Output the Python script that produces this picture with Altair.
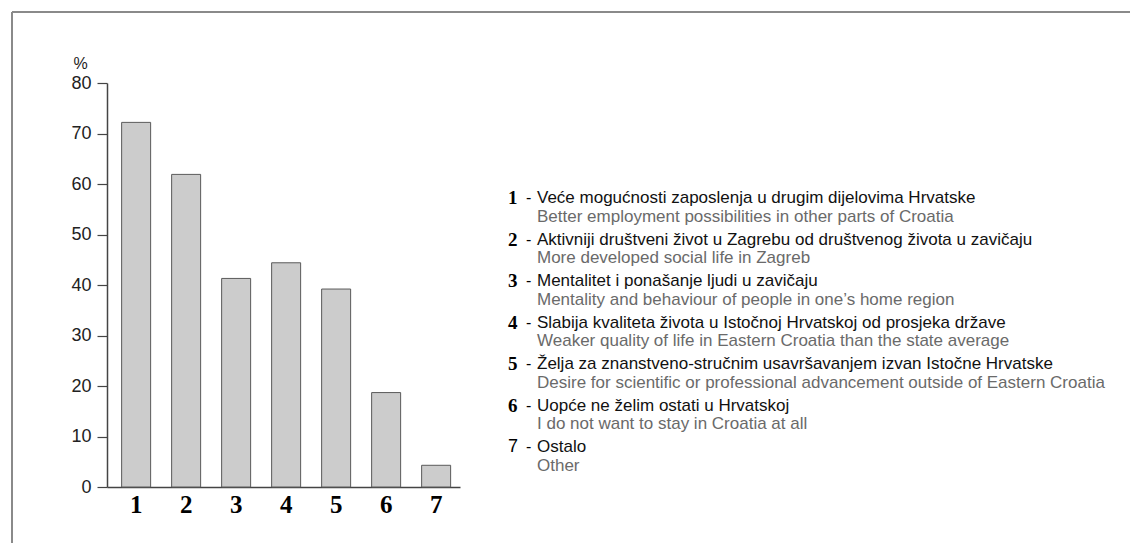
import altair as alt
import pandas as pd

categories = ["1", "2", "3", "4", "5", "6", "7"]
values = [72.2, 61.9, 41.3, 44.4, 39.2, 18.7, 4.3]

labels_hr = [
    "Veće mogućnosti zaposlenja u drugim dijelovima Hrvatske",
    "Aktivniji društveni život u Zagrebu od društvenog života u zavičaju",
    "Mentalitet i ponašanje ljudi u zavičaju",
    "Slabija kvaliteta života u Istočnoj Hrvatskoj od prosjeka države",
    "Želja za znanstveno-stručnim usavršavanjem izvan Istočne Hrvatske",
    "Uopće ne želim ostati u Hrvatskoj",
    "Ostalo",
]
labels_en = [
    "Better employment possibilities in other parts of Croatia",
    "More developed social life in Zagreb",
    "Mentality and behaviour of people in one\u2019s home region",
    "Weaker quality of life in Eastern Croatia than the state average",
    "Desire for scientific or professional advancement outside of Eastern Croatia",
    "I do not want to stay in Croatia at all",
    "Other",
]

bars_df = pd.DataFrame({"cat": categories, "value": values})
legend_df = pd.DataFrame({"item": categories, "hr": labels_hr, "en": labels_en})

SANS = "Liberation Sans"
SERIF = "Liberation Serif"

bars = alt.Chart(bars_df).mark_bar(
    color="#cccccc", stroke="#5a5a5a", strokeWidth=1
).encode(
    x=alt.X(
        "cat:N",
        sort=categories,
        scale=alt.Scale(paddingInner=0.42, paddingOuter=0.24, align=0.61),
        axis=alt.Axis(
            title=None, labelAngle=0, ticks=False, domain=True,
            domainColor="#444444", domainWidth=1.5,
            labelFont=SERIF, labelFontWeight="bold", labelFontSize=25,
            labelColor="#000000", labelPadding=5, labelBaseline="top",
        ),
    ),
    y=alt.Y(
        "value:Q",
        scale=alt.Scale(domain=[0, 80], nice=False, zero=True),
        axis=alt.Axis(
            values=[0, 10, 20, 30, 40, 50, 60, 70, 80],
            grid=False, tickSize=10, tickColor="#444444", tickWidth=1.2,
            domainColor="#444444", domainWidth=1.5,
            labelFont=SANS, labelFontSize=18, labelColor="#222222",
            labelPadding=6,
            title="%", titleAngle=0, titleFont=SANS, titleFontSize=16,
            titleFontWeight="normal", titleColor="#222222",
            titleAlign="center", titleBaseline="bottom",
            titleX=-27, titleY=-12,
        ),
    ),
)

ypos = alt.Y("item:O", sort=categories, axis=None,
             scale=alt.Scale(domain=categories, range=[115, 364], padding=0))

num_serif = alt.Chart(legend_df).transform_filter(
    alt.datum.item != "7"
).mark_text(
    align="left", baseline="middle", font=SERIF, fontWeight="bold",
    fontSize=19, color="#000000"
).encode(x=alt.value(401), y=ypos, text="item:N")

num_sans = alt.Chart(legend_df).transform_filter(
    alt.datum.item == "7"
).mark_text(
    align="left", baseline="middle", font=SANS, fontSize=18, color="#000000"
).encode(x=alt.value(401), y=ypos, text="item:N")

dash = alt.Chart(legend_df).mark_text(
    align="left", baseline="middle", font=SANS, fontSize=16, color="#000000"
).encode(x=alt.value(419), y=ypos, text=alt.value("-"))

hr_text = alt.Chart(legend_df).mark_text(
    align="left", baseline="middle", font=SANS, fontSize=17, color="#111111"
).encode(x=alt.value(430), y=ypos, text="hr:N")

en_text = alt.Chart(legend_df).mark_text(
    align="left", baseline="middle", font=SANS, fontSize=17, color="#6a6a6a",
    dy=18.5
).encode(x=alt.value(430), y=ypos, text="en:N")

frame_data = alt.Data(values=[{"k": 1}])
frame_top = alt.Chart(frame_data).mark_rule(color="#8a8a8a", strokeWidth=2).encode(
    x=alt.value(-95), x2=alt.value(1023), y=alt.value(-71)
)
frame_left = alt.Chart(frame_data).mark_rule(color="#8a8a8a", strokeWidth=2).encode(
    x=alt.value(-95), y=alt.value(-71), y2=alt.value(460)
)

chart = alt.layer(
    frame_top, frame_left, bars, num_serif, num_sans, dash, hr_text, en_text
).resolve_scale(
    y="independent"
).properties(
    width=353, height=404,
    autosize=alt.AutoSizeParams(type="none"),
    padding={"left": 99, "top": 75, "right": 670, "bottom": 56},
    background="#ffffff",
).configure_view(stroke=None)

chart.save("out.html", embed_options={"renderer": "svg", "actions": False})
